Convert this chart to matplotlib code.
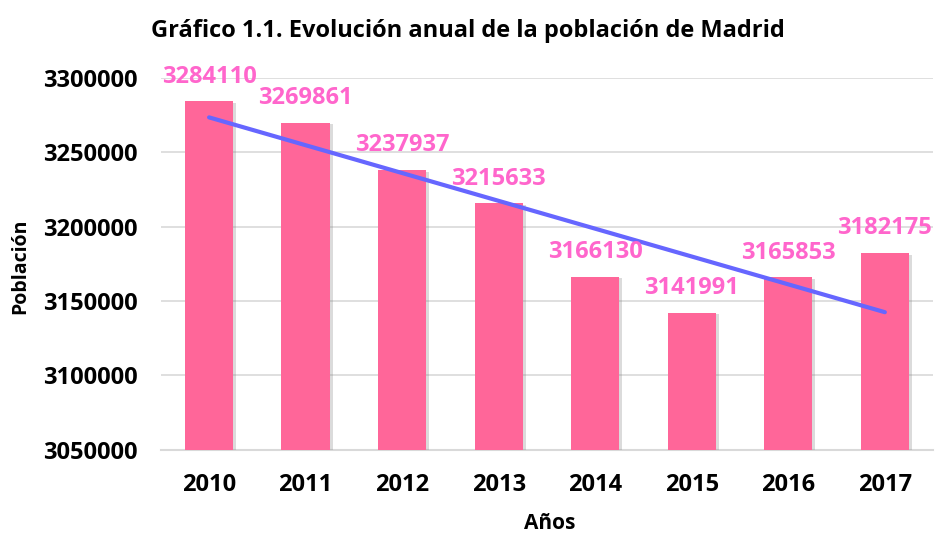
import numpy as np
import matplotlib
matplotlib.use("Agg")
import matplotlib.pyplot as plt
import matplotlib.patheffects as pe

# Data
years = ["2010", "2011", "2012", "2013", "2014", "2015", "2016", "2017"]
poblacion = [3284110, 3269861, 3237937, 3215633, 3166130, 3141991, 3165853, 3182175]
y_ticks = [3050000, 3100000, 3150000, 3200000, 3250000, 3300000]

plt.rcParams["font.family"] = ["Open Sans", "DejaVu Sans"]
plt.rcParams["font.weight"] = "bold"

fig = plt.figure(figsize=(9.35, 5.33), dpi=100)
ax = fig.add_axes([0.172, 0.156, 0.826, 0.698])

x = np.arange(len(years))
bars = ax.bar(x, poblacion, width=0.5, color="#FF6699", zorder=3)
for b in bars:
    b.set_path_effects([pe.SimplePatchShadow(offset=(2, -1), shadow_rgbFace="#888888", alpha=0.3), pe.Normal()])

# linear trend line
coef = np.polyfit(x, poblacion, 1)
ax.plot(x, np.polyval(coef, x), color="#6666FF", lw=3, solid_capstyle="round", zorder=4)

for xi, v in zip(x, poblacion):
    ax.annotate(str(v), (xi, v), xytext=(0, 13.5), textcoords="offset points",
                ha="center", va="baseline", color="#FF66CC",
                fontsize=17, fontweight="bold", zorder=5)

ax.set_xlim(-0.5, len(years) - 0.5)
ax.set_ylim(3050000, 3300000)
ax.set_yticks(y_ticks)
ax.set_yticklabels([str(t) for t in y_ticks])
ax.set_xticks(x)
ax.set_xticklabels(years)
ax.tick_params(axis="both", length=0, labelsize=17)
ax.tick_params(axis="x", pad=17)
ax.tick_params(axis="y", pad=17)
for lbl in ax.get_xticklabels() + ax.get_yticklabels():
    lbl.set_fontweight("bold")

ax.grid(axis="y", color="#D9D9D9", lw=1.2, zorder=0)
for s in ["top", "right", "left"]:
    ax.spines[s].set_visible(False)
ax.spines["bottom"].set_color("#D9D9D9")
ax.spines["bottom"].set_linewidth(1.5)

fig.text(0.588, 0.038, "Años", ha="center", va="top",
         fontsize=15, fontweight="bold")
fig.text(0.022, 0.5, "Población", rotation=90, ha="center", va="center",
         fontsize=14, fontweight="bold")
fig.text(0.5, 0.942, "Gráfico 1.1. Evolución anual de la población de Madrid",
         ha="center", va="center", fontsize=17, fontweight="bold")

fig.savefig("out.png", dpi=100)
